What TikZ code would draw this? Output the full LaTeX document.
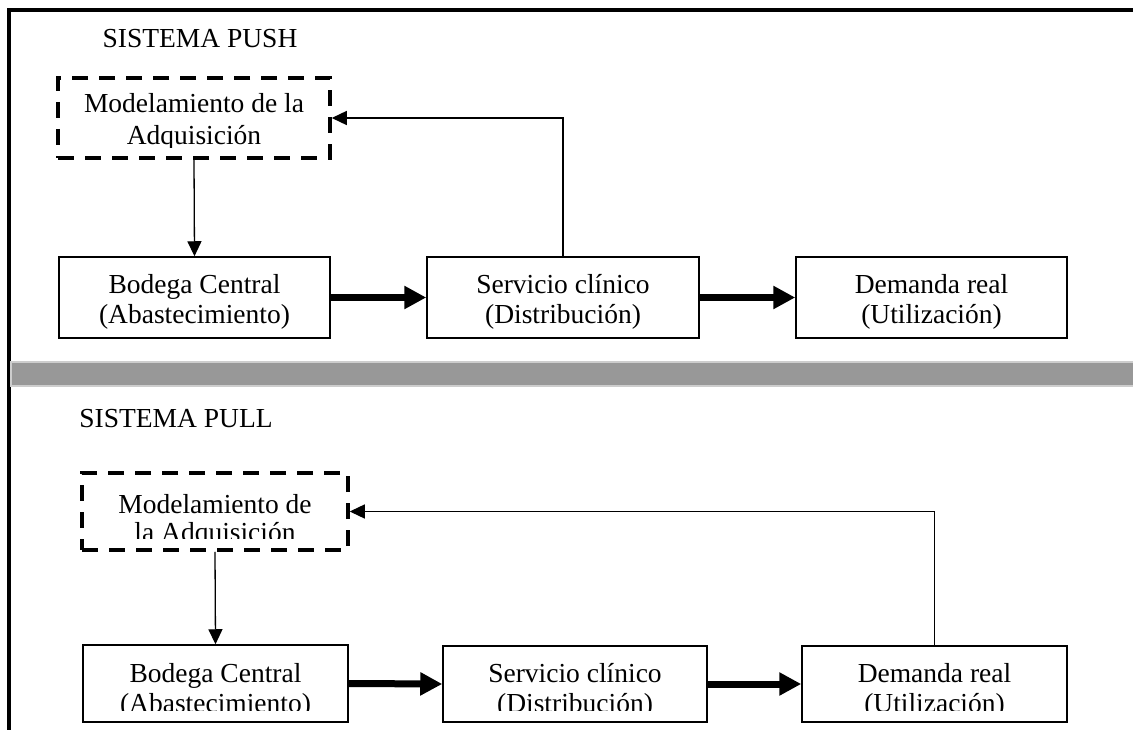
\documentclass[tikz,border=0pt]{standalone}
\usepackage{fontspec}
\setmainfont{Liberation Serif}
\usetikzlibrary{arrows.meta}
\definecolor{barfill}{RGB}{152,152,152}
\definecolor{barline}{RGB}{205,205,205}
\tikzset{
  box/.style={draw, line width=1.5pt, inner sep=0pt},
  modbox/.style={draw, line width=3.5pt, dash pattern=on 16pt off 11pt, inner sep=0pt},
  txt/.style={anchor=base, inner sep=0pt, font=\fontsize{27.5}{32}\selectfont},
  thinarrow/.style={line width=1.3pt, -{Triangle[length=15pt,width=14pt]}},
  thickarrow/.style={line width=7pt, -{Triangle[length=22pt,width=22pt]}}
}
\begin{document}
\begin{tikzpicture}[x=1pt,y=-1pt]
\useasboundingbox (0,0) rectangle (1133,730);
\fill[white] (0,0) rectangle (1133,730);

% frame
\draw[line width=4pt, line join=miter] (9,730) -- (9,10.5) -- (1133,10.5);

% separator bar
\draw[barline, fill=barfill, line width=2pt] (11,361.5) rectangle (1140,386);

% ===== SISTEMA PUSH =====
\node[txt] (tpush) at (200,48) {SISTEMA PUSH};

\node[modbox, minimum width=272pt, minimum height=80pt] (pmod) at (194,118) {};
\begin{scope}
  \clip (58,78) rectangle (330,147.5);
  \node[txt] (pmodA) at (194,113) {Modelamiento de la};
  \node[txt] (pmodB) at (194,145) {Adquisición};
\end{scope}

\node[box, minimum width=271pt, minimum height=81pt] (pbod) at (194.5,297.5) {};
\node[txt] (pbodA) at (194.5,293.5) {Bodega Central};
\node[txt] (pbodB) at (194.5,323.5) {(Abastecimiento)};

\node[box, minimum width=272pt, minimum height=81pt] (pser) at (563,297.5) {};
\node[txt] (pserA) at (563,293.5) {Servicio clínico};
\node[txt] (pserB) at (563,323.5) {(Distribución)};

\node[box, minimum width=271pt, minimum height=81pt] (pdem) at (931.5,297.5) {};
\node[txt] (pdemA) at (931.5,293.5) {Demanda real};
\node[txt] (pdemB) at (931.5,323.5) {(Utilización)};

\draw[thinarrow] (pmod.south) -- (pbod.north);
\draw[thickarrow] (pbod.east) -- (pser.west);
\draw[thickarrow] (pser.east) -- (pdem.west);
\draw[thinarrow] (pser.north) |- (pmod.east);

% ===== SISTEMA PULL =====
\node[txt] (tpull) at (176,427) {SISTEMA PULL};

\node[modbox, minimum width=266pt, minimum height=77pt] (lmod) at (215,511.5) {};
\begin{scope}
  \clip (82,473) rectangle (348,538);
  \node[txt] (lmodA) at (215,513) {Modelamiento de};
  \node[txt] (lmodB) at (215,541) {la Adquisición};
\end{scope}

\node[box, minimum width=265pt, minimum height=77pt] (lbod) at (215.5,683.5) {};
\node[box, minimum width=264pt, minimum height=76pt] (lser) at (575,684) {};
\node[box, minimum width=265pt, minimum height=76pt] (ldem) at (934.5,684) {};
\begin{scope}
  \clip (0,640) rectangle (1133,710);
  \node[txt] (lbodA) at (215.5,682) {Bodega Central};
  \node[txt] (lbodB) at (215.5,712) {(Abastecimiento)};
  \node[txt] (lserA) at (575,682) {Servicio clínico};
  \node[txt] (lserB) at (575,712) {(Distribución)};
  \node[txt] (ldemA) at (934.5,682) {Demanda real};
  \node[txt] (ldemB) at (934.5,712) {(Utilización)};
\end{scope}

\draw[thinarrow] (lmod.south) -- (lbod.north);
\draw[thickarrow] (lbod.east) -- (lser.west);
\draw[thickarrow] (lser.east) -- (ldem.west);
\draw[thinarrow] (ldem.north) |- (lmod.east);
\end{tikzpicture}
\end{document}
